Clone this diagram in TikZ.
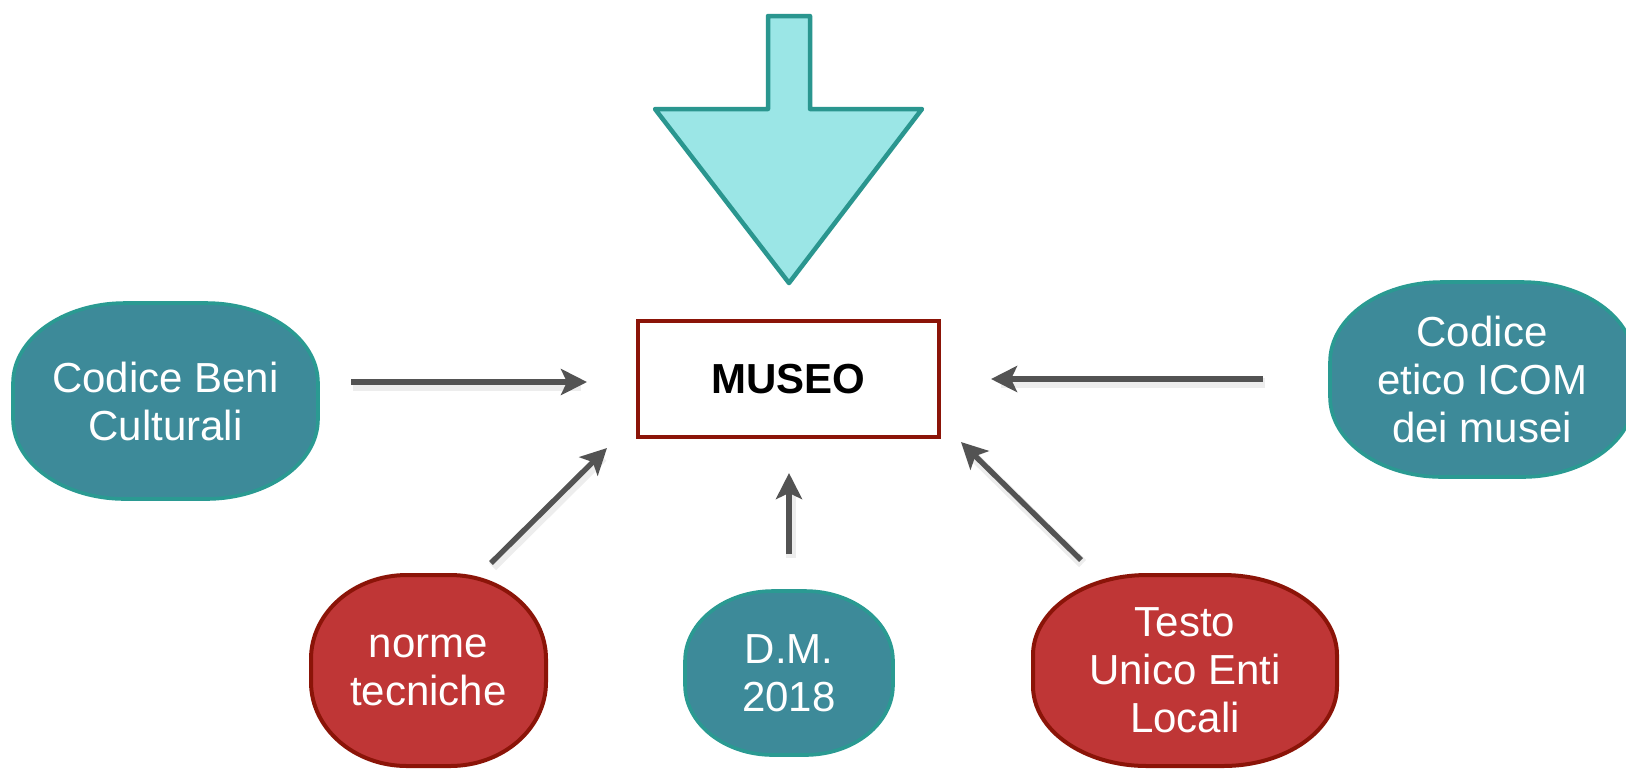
\documentclass[tikz,border=0pt]{standalone}
\usepackage{fontspec}
\setmainfont{Liberation Sans}
\usetikzlibrary{arrows.meta}
\pgfdeclarelayer{backdrop}
\pgfdeclarelayer{background}
\pgfsetlayers{backdrop,background,main}
\definecolor{tealfill}{HTML}{3D8A99}
\definecolor{tealline}{HTML}{2A9A92}
\definecolor{redfill}{HTML}{BF3636}
\definecolor{redline}{HTML}{8B1408}
\definecolor{bigfill}{HTML}{9BE6E6}
\definecolor{bigline}{HTML}{2A968F}
\definecolor{arrowgray}{HTML}{535353}
\newcommand\blobshape[4]{%
  \path[#2] ([xshift=#3]#1.north west) -- ([xshift=-#3]#1.north east)
    arc[start angle=90, end angle=0, x radius=#3, y radius=#4]
    -- ([yshift=#4]#1.south east)
    arc[start angle=0, end angle=-90, x radius=#3, y radius=#4]
    -- ([xshift=#3]#1.south west)
    arc[start angle=270, end angle=180, x radius=#3, y radius=#4]
    -- ([yshift=-#4]#1.north west)
    arc[start angle=180, end angle=90, x radius=#3, y radius=#4] -- cycle;}
\tikzset{
  blob/.style={inner sep=0pt, outer sep=0pt, align=center, text=white,
    font=\fontsize{21pt}{24pt}\selectfont},
  tealblob/.style={fill=tealfill, draw=tealline, line width=1.8pt},
  redblob/.style={fill=redfill, draw=redline, line width=2pt},
  conn/.style={draw=arrowgray, line width=2.7pt,
    -{Stealth[length=13pt, width=13pt, inset=3pt]}},
  connshadow/.style={draw=black, opacity=0.07, line width=5pt, shorten >=4pt},
}
\begin{document}
\begin{tikzpicture}[x=0.5pt, y=-0.5pt]
\begin{pgfonlayer}{backdrop}
\fill[white] (0,0) rectangle (1626,768);
\end{pgfonlayer}
\useasboundingbox (0,0) rectangle (1626,768);

% big arrow
\path[fill=bigfill, draw=bigline, line width=2.25pt, line join=round]
  (768,16) -- (810,16) -- (810,109) -- (922,109) -- (789,283)
  -- (655,109) -- (768,109) -- cycle;

% central box
\node[draw=redline, line width=2pt, minimum width=150.5pt, minimum height=58pt,
  inner sep=0pt, font=\fontsize{21pt}{24pt}\selectfont\bfseries]
  (museo) at (788.5,379) {MUSEO};

% blobs
\node[blob, minimum width=152.5pt, minimum height=98pt] (cbc) at (165.5,401)
  {Codice Beni\\Culturali};
\node[blob, minimum width=152pt, minimum height=97.5pt] (icom) at (1482,379.5)
  {Codice\\etico ICOM\\dei musei};
\node[blob, minimum width=117.5pt, minimum height=95.5pt] (norme) at (428.5,670.5)
  {norme\\tecniche};
\node[blob, minimum width=104pt, minimum height=82pt] (dm) at (789,673)
  {D.M.\\2018};
\node[blob, minimum width=152pt, minimum height=95.5pt] (tuel) at (1185,670.5)
  {Testo\\Unico Enti\\Locali};

\begin{pgfonlayer}{background}
  \blobshape{cbc}{tealblob}{56pt}{40pt}
  \blobshape{icom}{tealblob}{56pt}{40pt}
  \blobshape{norme}{redblob}{48pt}{42pt}
  \blobshape{dm}{tealblob}{44pt}{35pt}
  \blobshape{tuel}{redblob}{57pt}{40pt}
\end{pgfonlayer}

% connector end points
\coordinate (a1s) at (351,382);  \coordinate (a1e) at (587,382);
\coordinate (a2s) at (1263,379); \coordinate (a2e) at (991,379);
\coordinate (a3s) at (491,563);  \coordinate (a3e) at (607,448);
\coordinate (a4s) at (1081,560); \coordinate (a4e) at (961,442);
\coordinate (a5s) at (789,554);  \coordinate (a5e) at (789,473);

\begin{pgfonlayer}{background}
  \foreach \s/\e in {a1s/a1e, a2s/a2e, a3s/a3e, a4s/a4e, a5s/a5e}
    \path[connshadow] ([xshift=0.8pt,yshift=-1.8pt]\s) -- ([xshift=0.8pt,yshift=-1.8pt]\e);
\end{pgfonlayer}

\path[conn] (a1s) -- (a1e);
\path[conn] (a2s) -- (a2e);
\path[conn] (a3s) -- (a3e);
\path[conn] (a4s) -- (a4e);
\path[conn] (a5s) -- (a5e);
\end{tikzpicture}
\end{document}
